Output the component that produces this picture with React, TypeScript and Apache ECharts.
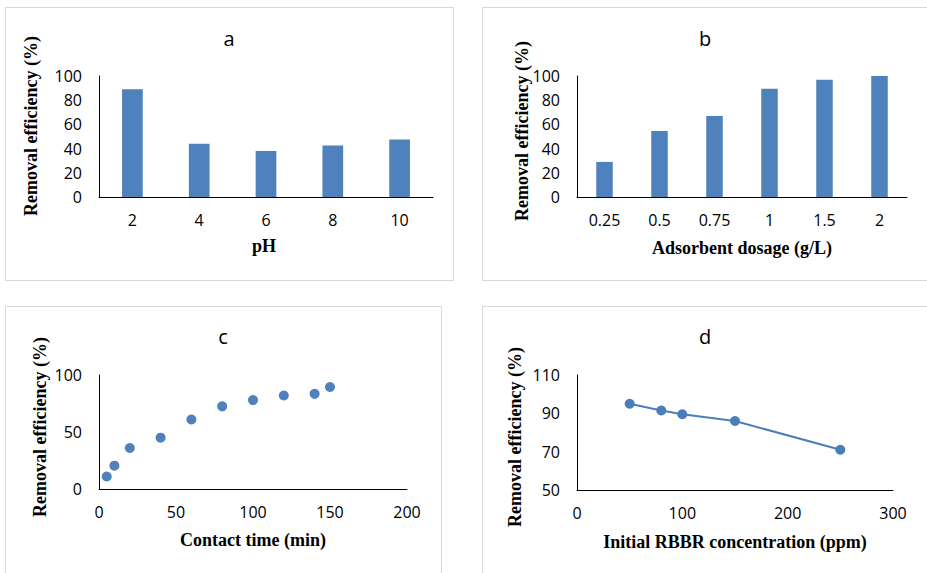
import React, { useEffect, useRef } from "react";
import * as echarts from "echarts";

const PH_LABELS = ["2", "4", "6", "8", "10"];
const PH_REMOVAL = [89, 44, 38, 42.5, 47.5];

const DOSAGE_LABELS = ["0.25", "0.5", "0.75", "1", "1.5", "2"];
const DOSAGE_REMOVAL = [29, 54.5, 67, 89.5, 97, 100];

const CONTACT_TIME = [5, 10, 20, 40, 60, 80, 100, 120, 140, 150];
const CONTACT_REMOVAL = [11, 20.5, 36, 45, 61, 72.5, 78, 82, 83.5, 89.5];

const RBBR_CONC = [50, 80, 100, 150, 250];
const RBBR_REMOVAL = [95, 91.5, 89.5, 86, 71];

const BLUE = "#4F81BD";
const TICK_FONT = { fontFamily: "Open Sans", fontSize: 16, color: "#000" };
const NAME_FONT = "bold 18px 'Liberation Serif'";
const TITLE_FONT = "20px 'Open Sans'";

export default function App() {
  const ref = useRef<HTMLDivElement>(null);
  useEffect(() => {
    if (!ref.current) return;
    const chart = echarts.init(ref.current, undefined, { renderer: "svg" });

    const axisLine = { show: true, lineStyle: { color: "#000", width: 1 } };
    const baseAxis = {
      axisLine,
      axisTick: { show: false },
      splitLine: { show: false },
    };

    const frame = (x: number, y: number, w: number, h: number) => ({
      type: "rect",
      shape: { x, y, width: w, height: h },
      style: { fill: "none", stroke: "#d9d9d9", lineWidth: 1 },
      silent: true,
    });
    const title = (t: string, x: number, y: number) => ({
      type: "text",
      x,
      y,
      style: { text: t, font: TITLE_FONT, fill: "#000", align: "center", verticalAlign: "middle" },
    });
    const xName = (t: string, x: number, y: number) => ({
      type: "text",
      x,
      y,
      style: { text: t, font: NAME_FONT, fill: "#000", align: "center", verticalAlign: "middle" },
    });
    const yName = (t: string, x: number, y: number) => ({
      type: "text",
      x,
      y,
      rotation: Math.PI / 2,
      style: { text: t, font: NAME_FONT, fill: "#000", align: "center", verticalAlign: "middle" },
    });

    const option: any = {
      animation: false,
      backgroundColor: "#fff",
      grid: [
        { left: 99, top: 76, width: 334, height: 121 },
        { left: 577, top: 76, width: 330, height: 121 },
        { left: 99, top: 375, width: 308, height: 114 },
        { left: 577, top: 375, width: 316, height: 115 },
      ],
      xAxis: [
        {
          ...baseAxis,
          gridIndex: 0,
          type: "category",
          data: PH_LABELS,
          axisLabel: { ...TICK_FONT, margin: 15 },
        },
        {
          ...baseAxis,
          gridIndex: 1,
          type: "category",
          data: DOSAGE_LABELS,
          axisLabel: { ...TICK_FONT, margin: 15 },
        },
        {
          ...baseAxis,
          gridIndex: 2,
          type: "value",
          min: 0,
          max: 200,
          interval: 50,
          axisLabel: { ...TICK_FONT, margin: 15 },
        },
        {
          ...baseAxis,
          gridIndex: 3,
          type: "value",
          min: 0,
          max: 300,
          interval: 100,
          axisLabel: { ...TICK_FONT, margin: 15 },
        },
      ],
      yAxis: [
        { ...baseAxis, gridIndex: 0, type: "value", min: 0, max: 100, interval: 20, axisLabel: { ...TICK_FONT, margin: 17 } },
        { ...baseAxis, gridIndex: 1, type: "value", min: 0, max: 100, interval: 20, axisLabel: { ...TICK_FONT, margin: 17 } },
        { ...baseAxis, gridIndex: 2, type: "value", min: 0, max: 100, interval: 50, axisLabel: { ...TICK_FONT, margin: 17 } },
        { ...baseAxis, gridIndex: 3, type: "value", min: 50, max: 110, interval: 20, axisLabel: { ...TICK_FONT, margin: 17 } },
      ],
      series: [
        {
          type: "bar",
          xAxisIndex: 0,
          yAxisIndex: 0,
          data: PH_REMOVAL,
          barWidth: "31%",
          itemStyle: { color: BLUE },
        },
        {
          type: "bar",
          xAxisIndex: 1,
          yAxisIndex: 1,
          data: DOSAGE_REMOVAL,
          barWidth: "30%",
          itemStyle: { color: BLUE },
        },
        {
          type: "scatter",
          xAxisIndex: 2,
          yAxisIndex: 2,
          data: CONTACT_TIME.map((t, i) => [t, CONTACT_REMOVAL[i]]),
          symbolSize: 10,
          itemStyle: { color: BLUE, opacity: 1 },
        },
        {
          type: "line",
          xAxisIndex: 3,
          yAxisIndex: 3,
          data: RBBR_CONC.map((c, i) => [c, RBBR_REMOVAL[i]]),
          symbol: "circle",
          symbolSize: 10,
          lineStyle: { color: "#4A7EBB", width: 2 },
          itemStyle: { color: "#4A7EBB" },
        },
      ],
      graphic: [
        frame(5.5, 7.5, 448, 273),
        frame(482.5, 7.5, 450, 273),
        frame(5.5, 306.5, 436, 280),
        frame(482.5, 306.5, 450, 280),
        title("a", 229, 38),
        title("b", 705, 38),
        title("c", 223, 336),
        title("d", 705, 336),
        xName("pH", 264, 246),
        xName("Adsorbent dosage (g/L)", 742, 248),
        xName("Contact time (min)", 253, 540),
        xName("Initial RBBR concentration (ppm)", 735, 542),
        yName("Removal efficiency (%)", 31, 126),
        yName("Removal efficiency (%)", 522, 131),
        yName("Removal efficiency (%)", 40, 427),
        yName("Removal efficiency (%)", 515, 437),
      ],
    };

    chart.setOption(option);
    return () => chart.dispose();
  }, []);

  return (
    <div
      ref={ref}
      style={{ position: "absolute", left: 0, top: 0, width: 927, height: 573, background: "#fff" }}
    />
  );
}
